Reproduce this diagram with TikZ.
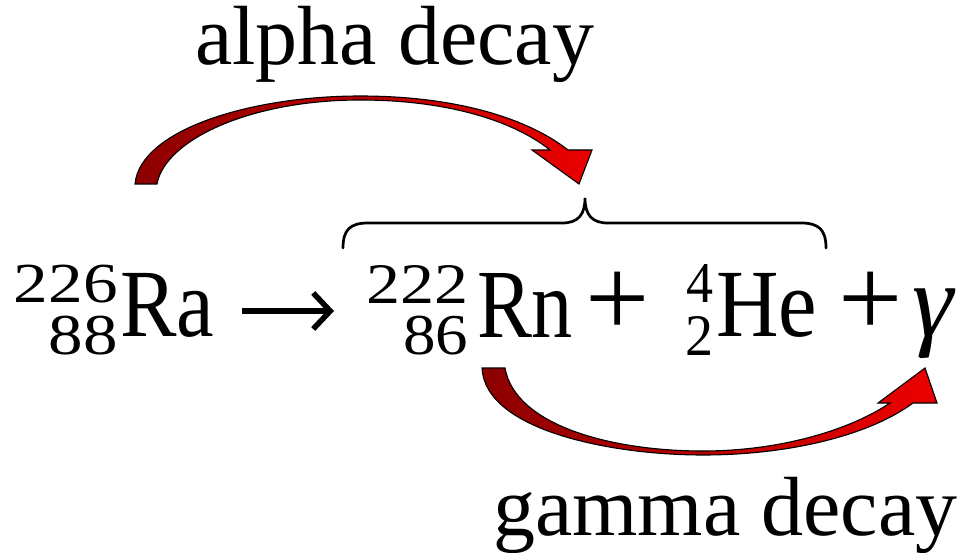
\documentclass[tikz,border=0pt]{standalone}
\usepackage{fontspec}
\setmainfont{Liberation Serif}
\usepackage{graphicx}
\usetikzlibrary{arrows.meta}
\newcommand\eqbox[3]{\resizebox*{#1pt}{#2pt}{#3}}
% stacked mass number / atomic number, right aligned
\newcommand\isostack[6]{\vbox{\offinterlineskip
  \hbox to #1pt{\hfil\eqbox{#2}{38}{#3}}\vskip 13pt
  \hbox to #1pt{\hfil\eqbox{#4}{39}{#5}\hskip #6pt}}}
\definecolor{darkred}{RGB}{140,0,0}
\definecolor{brightred}{RGB}{235,0,0}
\begin{document}
\begin{tikzpicture}[x=1pt,y=-1pt,
  eq/.style={anchor=north west,inner sep=0pt,outer sep=0pt},
  eqsym/.style={anchor=base west,inner sep=0pt,outer sep=0pt},
  lbl/.style={anchor=base west,inner sep=0pt,font=\fontsize{84}{90}\selectfont},
  reactarrow/.style={line width=5.5pt,-{Straight Barb[length=17pt,width=36pt,line width=5.5pt]}},
  bigarrow/.style={draw=black,line width=1.1pt,left color=darkred,right color=brightred},
  bracestyle/.style={draw=black,line width=2.7pt,line cap=round}]
\useasboundingbox (0,0) rectangle (969,553);

% equation
\node[eq] (Ra-n) at (14,265) {\isostack{104}{104}{226}{69}{88}{0}};
\node[eq] (Ra) at (120,273) {\eqbox{94}{64}{Ra}};
\coordinate (arrS) at (242,311);
\coordinate (arrE) at (334,311);
\draw[reactarrow] (arrS) -- (arrE);
\node[eq] (Rn-n) at (366,265) {\isostack{102}{102}{222}{65}{86}{0}};
\node[eq] (Rn) at (477,273) {\eqbox{96}{64}{Rn}};
\node[eqsym,font=\fontsize{114}{114}\selectfont] (p1) at (585,337) {+};
\node[eq] (He-n) at (685,265) {\isostack{28}{27}{4}{28}{2}{0}};
\node[eq] (He) at (716,273) {\eqbox{101}{64}{He}};
\node[eqsym,font=\fontsize{114}{114}\selectfont] (p2) at (838,337) {+};
\node[eqsym,font=\fontsize{104}{104}\selectfont\itshape] (g) at (912,337) {γ};

% labels
\node[lbl] (alpha) at (195,65) {alpha decay};
\node[lbl] (gamma) at (493,535) {gamma decay};

% brace
\draw[bracestyle] (343,248) .. controls (343,230) and (350,223) .. (368,223)
  -- (562,223) .. controls (578,223) and (585,215) .. (585,198)
  .. controls (585,215) and (592,223) .. (608,223)
  -- (801,223) .. controls (819,223) and (826,230) .. (826,248);

% alpha decay arrow
\path[bigarrow] (135,184) .. controls (140,130) and (250,96) .. (360,96)
  .. controls (460,96) and (530,120) .. (568,150)
  -- (592,150) -- (579,184) -- (532,150) -- (550,150)
  .. controls (515,122) and (450,100) .. (360,100)
  .. controls (250,100) and (165,140) .. (157,184) -- cycle;

% gamma decay arrow
\path[bigarrow] (482,368) .. controls (485,430) and (610,455) .. (703,455)
  .. controls (790,455) and (870,435) .. (913,403)
  -- (937,403) -- (925,368) -- (878,403) -- (890,403)
  .. controls (850,430) and (780,451) .. (703,451)
  .. controls (610,451) and (515,425) .. (505,368) -- cycle;
\end{tikzpicture}
\end{document}
